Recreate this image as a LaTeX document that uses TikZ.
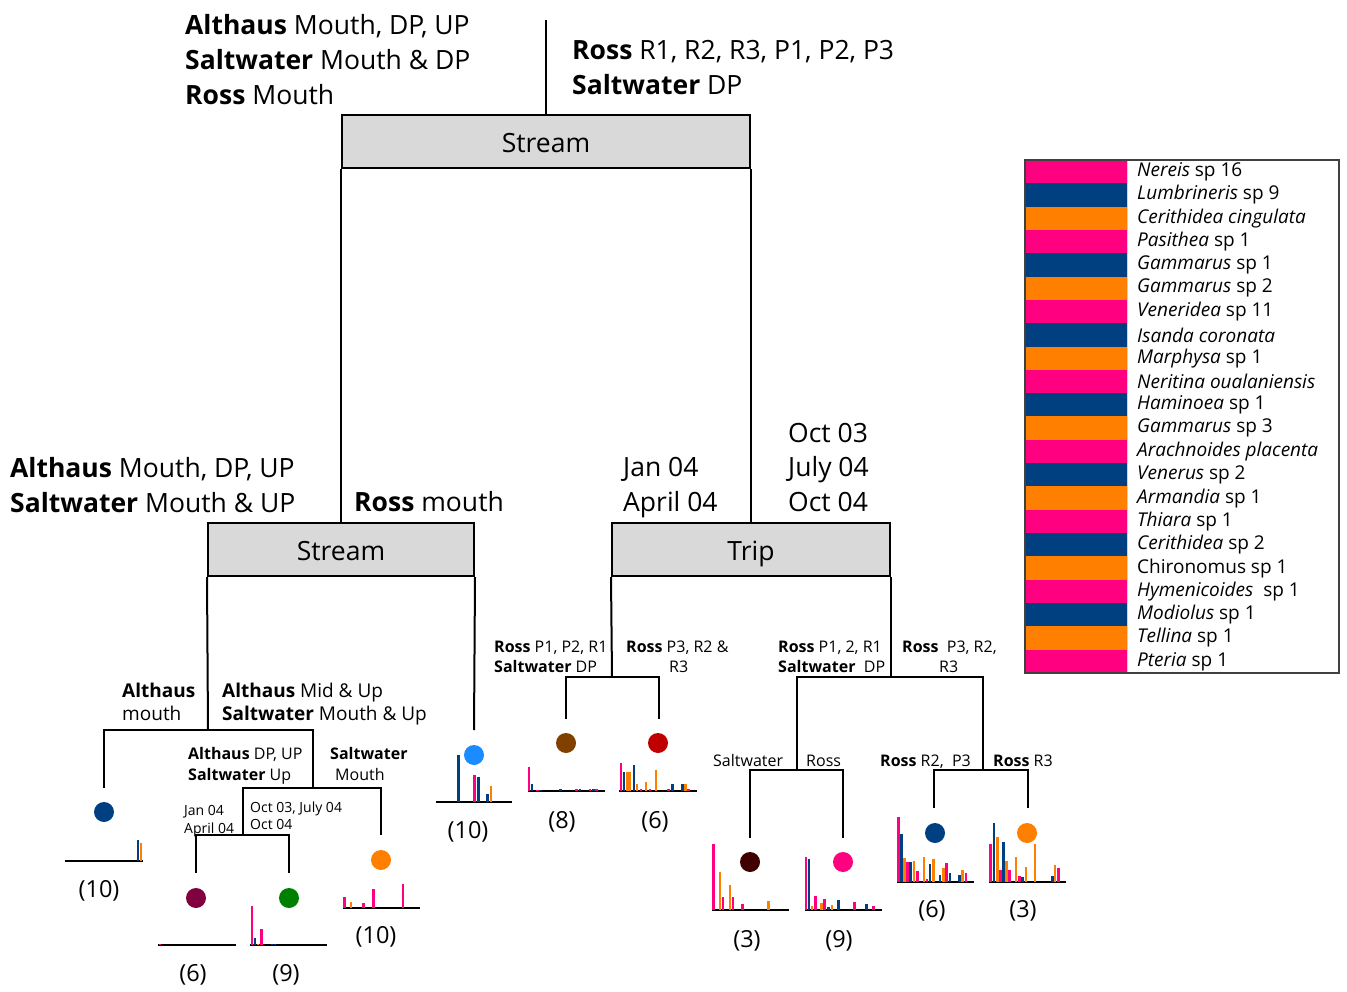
\documentclass[tikz,border=0pt]{standalone}
\usepackage{fontspec}
\setmainfont{Open Sans}
\usetikzlibrary{calc}

\definecolor{pk}{HTML}{FF0080}
\definecolor{db}{HTML}{003F80}
\definecolor{og}{HTML}{FF8000}
\definecolor{lb}{HTML}{1A8CFF}
\definecolor{br}{HTML}{804000}
\definecolor{rd}{HTML}{C00000}
\definecolor{mg}{HTML}{800040}
\definecolor{gr}{HTML}{008000}
\definecolor{dk}{HTML}{400000}
\definecolor{boxgray}{HTML}{D9D9D9}

\newcommand\fbig{\fontsize{26.5}{31}\selectfont}
\newcommand\fmid{\fontsize{19}{23}\selectfont}
\newcommand\fsml{\fontsize{16}{20}\selectfont}
\newcommand\ftny{\fontsize{14}{17}\selectfont}
\newcommand\fnum{\fontsize{23.5}{28}\selectfont}
\newcommand\fleg{\fontsize{19}{23}\selectfont}

% bars of one abundance histogram: #1 = baseline y, #2 = list x/height/colour
\newcommand\histbars[2]{%
  \foreach \bx/\bh/\bc in {#2}{%
    \fill[\bc] ({\bx-1.4},#1) rectangle ({\bx+1.4},{#1-\bh});}}

\tikzset{
  conn/.style={line width=2pt},
  splitbox/.style={draw, line width=2pt, fill=boxgray, minimum height=53pt,
    inner sep=0pt, font=\fbig, text height=22pt, text depth=0pt},
  lab/.style={anchor=base west, inner sep=0pt},
  num/.style={inner sep=0pt, font=\fnum},
  dot/.style={circle, inner sep=0pt, minimum size=20pt, draw=none},
  axisline/.style={line width=2.2pt},
  legtext/.style={anchor=west, inner sep=0pt, font=\fleg},
}

\begin{document}
\begin{tikzpicture}[x=1pt, y=-1pt]
\useasboundingbox (0,0) rectangle (1347,992);
\fill[white] (0,0) rectangle (1347,992);

% ---------- split boxes ----------
\node[splitbox, minimum width=408pt] (S1) at (546,142) {Stream};
\node[splitbox, minimum width=266pt] (S2) at (341,549.5) {Stream};
\node[splitbox, minimum width=278pt] (T)  at (751,549.5) {Trip};

% ---------- top level ----------
\coordinate (root) at (546,20);
\draw[conn] (root) -- (S1.north);
\draw[conn] (S1.south west) -- (S1.south west |- S2.north);
\draw[conn] (S1.south east) -- (S1.south east |- T.north);

\node[lab, font=\fbig] (t1) at (185,35) {\textbf{Althaus} Mouth, DP, UP};
\node[lab, font=\fbig] (t2) at (185,70) {\textbf{Saltwater} Mouth \& DP};
\node[lab, font=\fbig] (t3) at (185,105) {\textbf{Ross} Mouth};
\node[lab, font=\fbig] (t4) at (572,60) {\textbf{Ross} R1, R2, R3, P1, P2, P3};
\node[lab, font=\fbig] (t5) at (572,95) {\textbf{Saltwater} DP};

\node[lab, font=\fbig] (m1) at (10,477) {\textbf{Althaus} Mouth, DP, UP};
\node[lab, font=\fbig] (m2) at (10,512) {\textbf{Saltwater} Mouth \& UP};
\node[lab, font=\fbig] (m3) at (354,511) {\textbf{Ross} mouth};
\node[lab, font=\fbig] (m4) at (623,476) {Jan 04};
\node[lab, font=\fbig] (m5) at (623,511) {April 04};
\node[lab, font=\fbig] (m6) at (788,442) {Oct 03};
\node[lab, font=\fbig] (m7) at (788,476) {July 04};
\node[lab, font=\fbig] (m8) at (788,511) {Oct 04};

% ---------- left stream subtree ----------
\coordinate (jA) at (208,730);
\coordinate (tA) at (104,788);
\coordinate (jB) at (313,788);
\coordinate (jC) at (243,835);
\coordinate (tB) at (381,835);
\coordinate (tC1) at (196,873);
\coordinate (tC2) at (289,873);
\coordinate (tE) at (474,730);
\draw[conn] (S2.south west) -- (jA);
\draw[conn] (tA) |- (jA) -| (jB);
\draw[conn] (jC) |- (jB) -| (tB);
\draw[conn] (tC1) |- (jC) -| (tC2);
\draw[conn] (S2.south east) -- (tE);

\node[lab, font=\fmid] (a1) at (122,697) {\textbf{Althaus}};
\node[lab, font=\fmid] (a2) at (122,720) {mouth};
\node[lab, font=\fmid] (a3) at (222,697) {\textbf{Althaus} Mid \& Up};
\node[lab, font=\fmid] (a4) at (222,720) {\textbf{Saltwater} Mouth \& Up};
\node[lab, font=\fsml] (b1) at (188,759) {\textbf{Althaus} DP, UP};
\node[lab, font=\fsml] (b2) at (188,780) {\textbf{Saltwater} Up};
\node[lab, font=\fsml] (b3) at (330,759) {\textbf{Saltwater}};
\node[lab, font=\fsml] (b4) at (335,780) {Mouth};
\node[lab, font=\ftny] (c1) at (184,815) {Jan 04};
\node[lab, font=\ftny] (c2) at (184,833) {April 04};
\node[lab, font=\ftny] (c3) at (250,812) {Oct 03, July 04};
\node[lab, font=\ftny] (c4) at (250,829) {Oct 04};

\node[dot, fill=db] (dA) at (104,812) {};
\node[dot, fill=mg] (dC1) at (196,898) {};
\node[dot, fill=gr] (dC2) at (289,898) {};
\node[dot, fill=og] (dB) at (381,860) {};
\node[dot, fill=lb] (dE) at (474,755) {};

\draw[axisline] (65,860.7) -- (143,860.7);
\histbars{860.7}{138/20.7/db, 141/17.3/og}
\draw[axisline] (158,945) -- (236,945);
\histbars{945}{160/1.5/pk}
\draw[axisline] (250,945) -- (327,945);
\histbars{945}{252/39/pk, 255/6.7/db, 258/1.2/og, 261.5/16/pk, 272/1.2/db, 275/1.2/db}
\draw[axisline] (343,908.3) -- (420,908.3);
\histbars{908.3}{344.5/11.7/pk, 351/6/og, 363.5/5/pk, 373.5/19/pk, 403/24.3/pk}
\draw[axisline] (436,801.7) -- (512,801.7);
\histbars{801.7}{458.5/46.7/db, 474.5/26.7/pk, 478.5/24.3/db, 487.7/7.3/db, 491/15.7/og}

\node[num] (n1) at (99,891) {(10)};
\node[num] (n2) at (193,975) {(6)};
\node[num] (n3) at (286,975) {(9)};
\node[num] (n4) at (376,937) {(10)};
\node[num] (n5) at (468,832) {(10)};

% ---------- trip subtree ----------
\coordinate (jT1) at (612,677);
\coordinate (tT1) at (566,719);
\coordinate (tT2) at (659,719);
\coordinate (jT2) at (T.south east |- jT1);
\coordinate (jU) at (797,770);
\coordinate (jV) at (983,770);
\coordinate (tU1) at (750,838);
\coordinate (tU2) at (843,838);
\coordinate (tV1) at (934,808);
\coordinate (tV2) at (1028,808);
\draw[conn] (T.south west) -- (jT1);
\draw[conn] (tT1) |- (jT1) -| (tT2);
\draw[conn] (T.south east) -- (jT2);
\draw[conn] (jU) |- (jT2) -| (jV);
\draw[conn] (tU1) |- (jU) -| (tU2);
\draw[conn] (tV1) |- (jV) -| (tV2);

\node[lab, font=\fsml] (r1) at (494,652) {\textbf{Ross} P1, P2, R1};
\node[lab, font=\fsml] (r2) at (494,672) {\textbf{Saltwater} DP};
\node[lab, font=\fsml] (r3) at (626,652) {\textbf{Ross} P3, R2 \&};
\node[lab, font=\fsml] (r4) at (669,672) {R3};
\node[lab, font=\fsml] (r5) at (778,652) {\textbf{Ross} P1, 2, R1};
\node[lab, font=\fsml] (r6) at (778,672) {\textbf{Saltwater}\ \ DP};
\node[lab, font=\fsml] (r7) at (902,652) {\textbf{Ross}\ \ P3, R2,};
\node[lab, font=\fsml] (r8) at (939,672) {R3};
\node[lab, font=\fsml] (r9) at (713,766) {Saltwater};
\node[lab, font=\fsml] (r10) at (806,766) {Ross};
\node[lab, font=\fsml] (r11) at (880,766) {\textbf{Ross} R2,\ \ P3};
\node[lab, font=\fsml] (r12) at (993,766) {\textbf{Ross} R3};

\node[dot, fill=br] (dT1) at (566,743) {};
\node[dot, fill=rd] (dT2) at (658,743) {};
\node[dot, fill=dk] (dU1) at (750,862) {};
\node[dot, fill=pk] (dU2) at (843,862) {};
\node[dot, fill=db] (dV1) at (935,833) {};
\node[dot, fill=og] (dV2) at (1027,833) {};

\draw[axisline] (527.7,790.7) -- (605,790.7);
\histbars{790.7}{529/24/pk, 531.9/6.7/db, 537.3/1.2/pk, 540.7/1.2/db, 560.7/2/db,
  576.7/1.5/pk, 580/1.5/db, 590/1.5/pk, 593.3/1.5/db, 596.7/1.5/pk}
\draw[axisline] (619,790.7) -- (697,790.7);
\histbars{790.7}{621/27.3/pk, 624/19/db, 627.3/19/og, 630/19/og, 634/26/db, 637/7/og,
  641/1.5/pk, 646/9/og, 650/1.5/pk, 656/21/og, 668.3/1.5/pk, 672.7/7/db,
  682.3/6.3/db, 685.3/7/og, 688.7/1.5/pk}
\draw[axisline] (712,910) -- (789,910);
\histbars{910}{713.3/65.7/pk, 720/37.7/og, 722.9/13.3/pk, 730/25/og, 732.9/13.3/pk,
  742.3/6/pk, 768.3/9/og}
\draw[axisline] (805,910) -- (882,910);
\histbars{910}{805.9/52.7/pk, 809/51.3/db, 812/4/og, 815.3/14.3/pk, 821.7/6.7/og,
  824.7/11/pk, 828.3/2.7/db, 832/5/og, 838.3/10/db, 854.3/8.3/pk, 866.7/6.3/db,
  873.3/4/pk}
\draw[axisline] (897,881.7) -- (974,881.7);
\histbars{881.7}{898.3/65/pk, 901.5/47.3/db, 904.5/23.3/og, 907.7/20/pk, 910.7/20/db,
  914/21/og, 917.3/11/pk, 924/24.3/og, 926.9/2.3/pk, 930/17.7/db, 933.3/22.3/og,
  940/6.7/db, 943.3/14/og, 946.7/18.3/pk, 950/8.3/db, 959.3/6.7/db, 962.7/11.7/og,
  966/8.3/pk}
\draw[axisline] (989,881.7) -- (1066,881.7);
\histbars{881.7}{990.7/37.3/pk, 994/58.3/db, 997.2/44.3/og, 1000.2/11.7/pk,
  1003.3/39.3/db, 1006.3/21/og, 1009.3/11.7/pk, 1016/24.3/og, 1019.3/5.7/pk,
  1022.7/4.3/db, 1026/15/og, 1035/37.3/og, 1052.3/5.7/db, 1055/16.7/og,
  1058.3/13.3/pk}

\node[num] (n6) at (562,822) {(8)};
\node[num] (n7) at (655,822) {(6)};
\node[num] (n8) at (747,941) {(3)};
\node[num] (n9) at (839,941) {(9)};
\node[num] (n10) at (932,911) {(6)};
\node[num] (n11) at (1023,911) {(3)};

% ---------- species key ----------
\foreach \c/\t [count=\i from 0] in {
  pk/{\textit{Nereis} sp 16},
  db/{\textit{Lumbrineris} sp 9},
  og/{\textit{Cerithidea cingulata}},
  pk/{\textit{Pasithea} sp 1},
  db/{\textit{Gammarus} sp 1},
  og/{\textit{Gammarus} sp 2},
  pk/{\textit{Veneridea} sp 11},
  db/{\textit{Isanda coronata}},
  og/{\textit{Marphysa} sp 1},
  pk/{\textit{Neritina oualaniensis}},
  db/{\textit{Haminoea} sp 1},
  og/{\textit{Gammarus} sp 3},
  pk/{\textit{Arachnoides placenta}},
  db/{\textit{Venerus} sp 2},
  og/{\textit{Armandia} sp 1},
  pk/{\textit{Thiara}\ sp 1},
  db/{\textit{Cerithidea}\ sp 2},
  og/{Chironomus sp 1},
  pk/{\textit{Hymenicoides}\ \ sp 1},
  db/{\textit{Modiolus} sp 1},
  og/{\textit{Tellina} sp 1},
  pk/{\textit{Pteria} sp 1}}{
  \fill[\c] (1025,{160+\i*23.318}) rectangle (1127,{160+(\i+1)*23.318});
  \node[legtext] (leg\i) at (1137,{160+(\i+0.5)*23.318}) {\t};
}
\draw[gray!35, line width=0.8pt] (1127.5,160) -- (1127.5,673);
\draw[black!75, line width=1.2pt] (1025,160) rectangle (1339,673);

\end{tikzpicture}
\end{document}
